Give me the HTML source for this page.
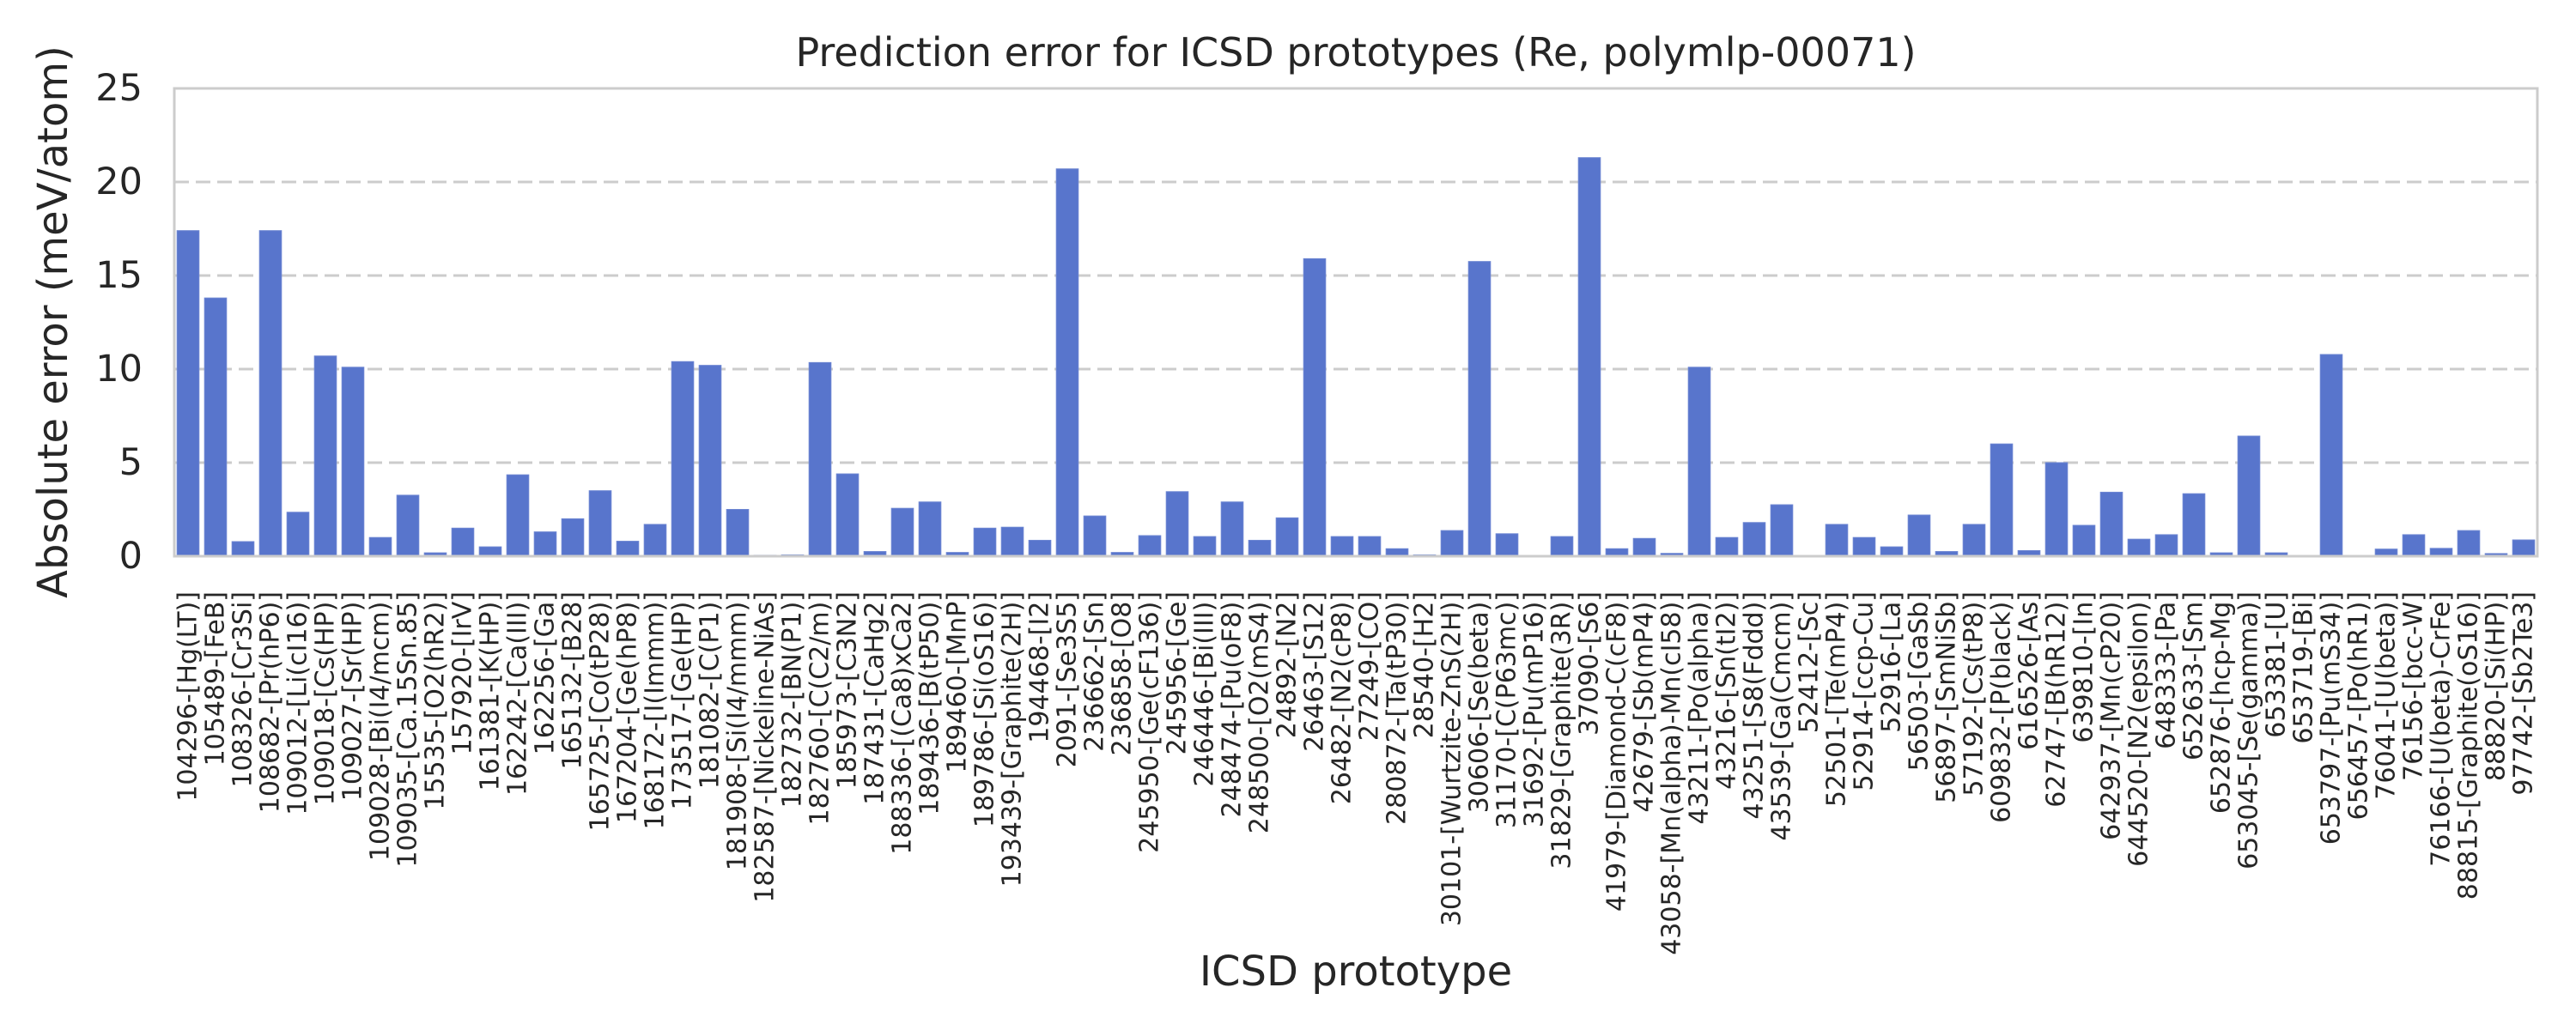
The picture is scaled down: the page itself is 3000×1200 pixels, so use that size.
<!DOCTYPE html>
<html><head><meta charset="utf-8"><style>
html,body{margin:0;padding:0;background:#fff;}
svg{display:block;font-family:"DejaVu Sans","Liberation Sans",sans-serif;}
</style></head><body>
<svg id="chart" width="3000" height="1200" viewBox="0 0 3000 1200" xmlns="http://www.w3.org/2000/svg">
<rect width="3000" height="1200" fill="#fff"/>
<text x="1579" y="77" font-size="46" fill="#262626" text-anchor="middle">Prediction error for ICSD prototypes (Re, polymlp-00071)</text>
<text x="1579" y="1148" font-size="48" fill="#262626" text-anchor="middle">ICSD prototype</text>
<text transform="translate(78,375) rotate(-90)" font-size="48" fill="#262626" text-anchor="middle">Absolute error (meV/atom)</text>
<g id="grid"></g>
<g id="bars"></g>
<rect x="203" y="103" width="2752" height="545" fill="none" stroke="#cccccc" stroke-width="3"/>
<g id="yticks"></g>
<g id="xticks"></g>
</svg>
<script>
const categories = ["104296-[Hg(LT)]","105489-[FeB]","108326-[Cr3Si]","108682-[Pr(hP6)]","109012-[Li(cI16)]","109018-[Cs(HP)]","109027-[Sr(HP)]","109028-[Bi(I4/mcm)]","109035-[Ca.15Sn.85]","15535-[O2(hR2)]","157920-[IrV]","161381-[K(HP)]","162242-[Ca(III)]","162256-[Ga]","165132-[B28]","165725-[Co(tP28)]","167204-[Ge(hP8)]","168172-[I(Immm)]","173517-[Ge(HP)]","181082-[C(P1)]","181908-[Si(I4/mmm)]","182587-[Nickeline-NiAs]","182732-[BN(P1)]","182760-[C(C2/m)]","185973-[C3N2]","187431-[CaHg2]","188336-[(Ca8)xCa2]","189436-[B(tP50)]","189460-[MnP]","189786-[Si(oS16)]","193439-[Graphite(2H)]","194468-[I2]","2091-[Se3S5]","236662-[Sn]","236858-[O8]","245950-[Ge(cF136)]","245956-[Ge]","246446-[Bi(III)]","248474-[Pu(oF8)]","248500-[O2(mS4)]","24892-[N2]","26463-[S12]","26482-[N2(cP8)]","27249-[CO]","280872-[Ta(tP30)]","28540-[H2]","30101-[Wurtzite-ZnS(2H)]","30606-[Se(beta)]","31170-[C(P63mc)]","31692-[Pu(mP16)]","31829-[Graphite(3R)]","37090-[S6]","41979-[Diamond-C(cF8)]","42679-[Sb(mP4)]","43058-[Mn(alpha)-Mn(cI58)]","43211-[Po(alpha)]","43216-[Sn(tI2)]","43251-[S8(Fddd)]","43539-[Ga(Cmcm)]","52412-[Sc]","52501-[Te(mP4)]","52914-[ccp-Cu]","52916-[La]","56503-[GaSb]","56897-[SmNiSb]","57192-[Cs(tP8)]","609832-[P(black)]","616526-[As]","62747-[B(hR12)]","639810-[In]","642937-[Mn(cP20)]","644520-[N2(epsilon)]","648333-[Pa]","652633-[Sm]","652876-[hcp-Mg]","653045-[Se(gamma)]","653381-[U]","653719-[Bi]","653797-[Pu(mS34)]","656457-[Po(hR1)]","76041-[U(beta)]","76156-[bcc-W]","76166-[U(beta)-CrFe]","88815-[Graphite(oS16)]","88820-[Si(HP)]","97742-[Sb2Te3]"];
const errors = [17.4,13.8,0.78,17.4,2.35,10.7,10.1,1.0,3.26,0.18,1.5,0.5,4.35,1.3,2.0,3.5,0.8,1.7,10.4,10.2,2.5,0.05,0.07,10.35,4.4,0.25,2.56,2.9,0.2,1.5,1.55,0.85,20.7,2.15,0.2,1.1,3.45,1.05,2.9,0.85,2.05,15.9,1.05,1.05,0.4,0.07,1.37,15.75,1.2,0,1.05,21.3,0.4,0.95,0.15,10.1,1.0,1.8,2.75,0,1.7,1.0,0.5,2.2,0.25,1.7,6.0,0.3,5.0,1.65,3.42,0.91,1.15,3.34,0.18,6.42,0.18,0,10.78,0,0.38,1.15,0.42,1.37,0.14,0.87];
const yTicks = [0,5,10,15,20,25];
const gridValues = [5,10,15,20];

const NS = "http://www.w3.org/2000/svg";
const L = 203, R = 2955, T = 103, B = 648, YMAX = 25;
const slot = (R - L) / categories.length;
function xCenter(i){ return L + slot * (i + 0.5); }
function yScale(v){ return B - (v / YMAX) * (B - T); }
function mk(tag, attrs){ const e = document.createElementNS(NS, tag); for (const k in attrs) e.setAttribute(k, attrs[k]); return e; }

const grid = document.getElementById('grid');
gridValues.forEach(v => {
  const ln = mk('line', {x1:L, x2:R, y1:yScale(v), y2:yScale(v), stroke:'#cccccc', 'stroke-width':3, 'stroke-dasharray':'17 8'});
  
  
  grid.appendChild(ln);
});

const bars = document.getElementById('bars');
errors.forEach((v, i) => {
  const w = slot * 0.8;
  const y = yScale(v);
  const r = mk('rect', {x:xCenter(i) - w/2, y:y, width:w, height:Math.max(0, B - y), fill:'#5875cc', stroke:'#6d86d2', 'stroke-width':1});
  
  
  bars.appendChild(r);
});

const yt = document.getElementById('yticks');
yTicks.forEach(v => {
  const t = mk('text', {x:166, y:yScale(v), 'font-size':43, fill:'#262626', 'text-anchor':'end', 'dominant-baseline':'central'});
  t.textContent = String(v);
  
  
  yt.appendChild(t);
});

const xt = document.getElementById('xticks');
categories.forEach((c, i) => {
  const t = mk('text', {transform:'translate(' + xCenter(i) + ',689) rotate(-90)', 'font-size':30, fill:'#262626', 'text-anchor':'end', 'dominant-baseline':'central'});
  t.textContent = c;
  
  
  xt.appendChild(t);
});
</script>
</body></html>
